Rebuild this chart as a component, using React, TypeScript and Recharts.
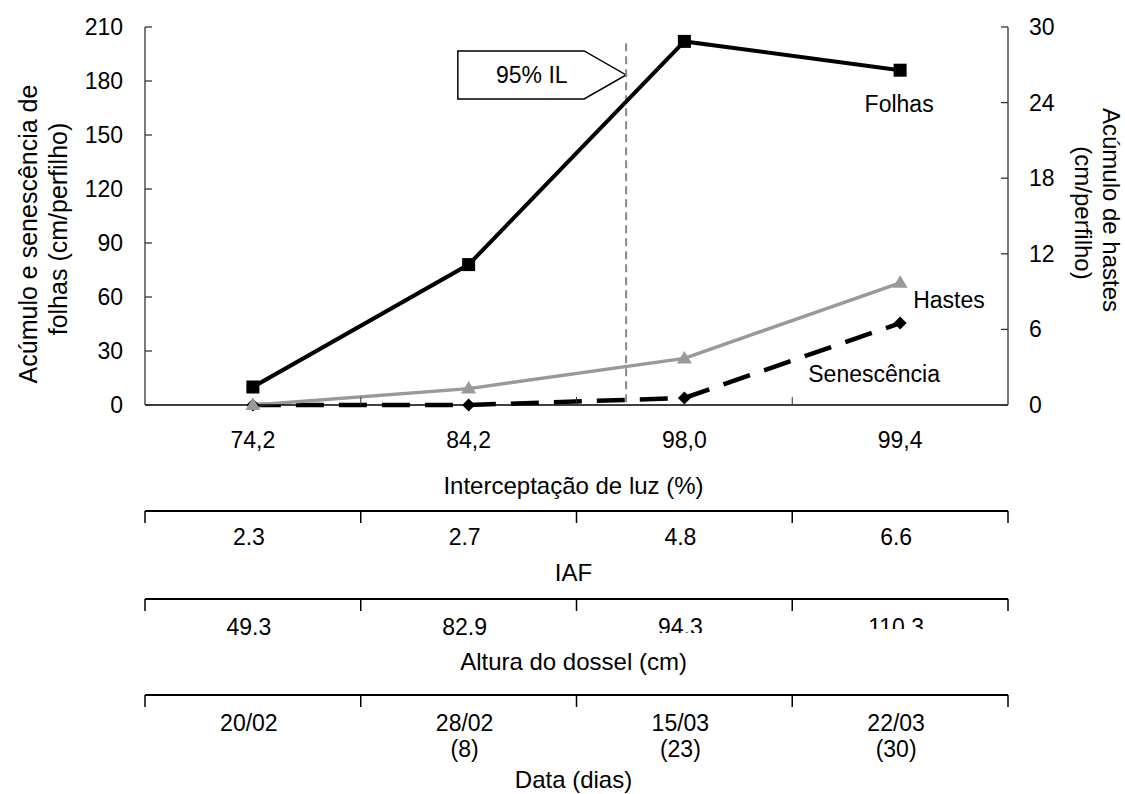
import React from 'react';
import { ComposedChart, Line, XAxis, YAxis, ReferenceLine, ReferenceArea, LabelList } from 'recharts';

const FONT = '"Liberation Sans", Arial, sans-serif';

const INTERCEPTACAO = ['74,2', '84,2', '98,0', '99,4'];
const FOLHAS = [10, 78, 202, 186];
const HASTES = [0, 1.3, 3.7, 9.7];
const SENESCENCIA = [0, 0, 3.9, 45.5];
const IAF = ['2.3', '2.7', '4.8', '6.6'];
const ALTURA = ['49.3', '82.9', '94.3', '110.3'];
const DATAS = ['20/02', '28/02', '15/03', '22/03'];
const DIAS = ['', '(8)', '(23)', '(30)'];

const LEFT_TICKS = [0, 30, 60, 90, 120, 150, 180, 210];
const RIGHT_TICKS = [0, 6, 12, 18, 24, 30];
const X_TICKS = [-0.5, 0, 0.5, 1, 1.5, 2, 2.5, 3, 3.5];

// 95% IL marker, x in category-index units, y on left axis
const IL95_X = 1.73;
const IL95_TOP = 201;
const CALLOUT_X1 = 0.95;
const CALLOUT_Y = [170, 196.7];

const data = INTERCEPTACAO.map((il, i) => ({
  x: i,
  il,
  folhas: FOLHAS[i],
  hastes: HASTES[i],
  senescencia: SENESCENCIA[i],
}));

const txt = { fontFamily: FONT, fill: '#000' };

function MainXTick(p: any) {
  const v = p.payload.value;
  if (Number.isInteger(v)) {
    return (
      <text x={p.x} y={p.y + 43} textAnchor="middle" fontSize={23} {...txt}>
        {INTERCEPTACAO[v]}
      </text>
    );
  }
  if (v > -0.5 && v < 3.5) {
    return <line x1={p.x} x2={p.x} y1={p.y} y2={p.y - 8} stroke="#333" strokeWidth={1} />;
  }
  return <g />;
}

const tableTick = (rows: string[][], dys: number[], clip?: (number | null)[]) => (p: any) => {
  const v = p.payload.value;
  if (Number.isInteger(v)) {
    const cb = clip ? clip[v] : null;
    const id = `clip-${v}-${rows[0][v].replace(/\W/g, '')}`;
    return (
      <g>
        {cb != null && (
          <defs>
            <clipPath id={id}>
              <rect x={p.x - 60} y={p.y} width={120} height={cb} />
            </clipPath>
          </defs>
        )}
        <g clipPath={cb != null ? `url(#${id})` : undefined}>
          {rows.map((r, k) => (
            <text key={k} x={p.x - 4} y={p.y + dys[k]} textAnchor="middle" fontSize={23} {...txt}>
              {r[v]}
            </text>
          ))}
        </g>
      </g>
    );
  }
  return <line x1={p.x} x2={p.x} y1={p.y} y2={p.y + 12} stroke="#000" strokeWidth={1.5} />;
};

const axisTitle = (text: string, dy: number) => (p: any) => {
  const vb = p.viewBox;
  return (
    <text x={vb.x + vb.width / 2 - 3} y={vb.y + dy} textAnchor="middle" fontSize={24} {...txt}>
      {text}
    </text>
  );
};

function LeftTick(p: any) {
  return (
    <g>
      <line x1={p.x} x2={p.x + 7} y1={p.y} y2={p.y} stroke="#333" strokeWidth={1.3} />
      <text x={p.x - 22} y={p.y + 8} textAnchor="end" fontSize={23} {...txt}>
        {p.payload.value}
      </text>
    </g>
  );
}

function RightTick(p: any) {
  return (
    <g>
      <line x1={p.x} x2={p.x - 7} y1={p.y} y2={p.y} stroke="#333" strokeWidth={1.3} />
      <text x={p.x + 21} y={p.y + 8} textAnchor="start" fontSize={23} {...txt}>
        {p.payload.value}
      </text>
    </g>
  );
}

function LeftTitle(p: any) {
  const vb = p.viewBox;
  const b1 = vb.x + 37;
  const b2 = vb.x + 67;
  const c1 = vb.y + 207;
  const c2 = vb.y + 202;
  return (
    <g>
      <text x={b1} y={c1} transform={`rotate(-90, ${b1}, ${c1})`} textAnchor="middle" fontSize={25} {...txt}>
        Acúmulo e senescência de
      </text>
      <text x={b2} y={c2} transform={`rotate(-90, ${b2}, ${c2})`} textAnchor="middle" fontSize={25} {...txt}>
        folhas (cm/perfilho)
      </text>
    </g>
  );
}

function RightTitle(p: any) {
  const vb = p.viewBox;
  const b1 = vb.x + 95;
  const b2 = vb.x + 67;
  const c1 = vb.y + 183;
  const c2 = vb.y + 186;
  return (
    <g>
      <text x={b1} y={c1} transform={`rotate(90, ${b1}, ${c1})`} textAnchor="middle" fontSize={24} {...txt}>
        Acúmulo de hastes
      </text>
      <text x={b2} y={c2} transform={`rotate(90, ${b2}, ${c2})`} textAnchor="middle" fontSize={24} {...txt}>
        (cm/perfilho)
      </text>
    </g>
  );
}

function Callout(p: any) {
  const { x, y, width, height } = p;
  const tip = 42;
  const d = `M${x},${y} H${x + width - tip} L${x + width},${y + height / 2} L${x + width - tip},${y + height} H${x} Z`;
  return (
    <g>
      <path d={d} fill="#fff" stroke="#000" strokeWidth={1.5} />
      <text x={x + 74} y={y + 32} textAnchor="middle" fontSize={23} {...txt}>
        95% IL
      </text>
    </g>
  );
}

const seriesLabel = (text: string, dx: number, dy: number, anchor: string) => (p: any) => {
  if (p.index !== 3) return <g />;
  return (
    <text x={p.x + dx} y={p.y + dy} textAnchor={anchor} fontSize={23} {...txt}>
      {text}
    </text>
  );
};

// axis ids are alphabetical: recharts stacks bottom axes in that order
const tableAxis = {
  dataKey: 'x',
  type: 'number' as const,
  domain: [-0.5, 3.5],
  ticks: X_TICKS,
  interval: 0,
  allowDataOverflow: true,
  tickLine: false,
  tickSize: 0,
  tickMargin: 0,
};

export default function App() {
  return (
    <div style={{ position: 'absolute', left: 0, top: 0, width: 1125, height: 794, background: '#fff' }}>
      <ComposedChart width={1125} height={794} data={data} margin={{ top: 27, right: 0, bottom: 0, left: 0 }}>
        <XAxis
          xAxisId="a_main"
          {...tableAxis}
          height={106}
          axisLine={{ stroke: '#000', strokeWidth: 1.5 }}
          tick={(p: any) => <MainXTick {...p} />}
          label={axisTitle('Interceptação de luz (%)', 89)}
        />
        <XAxis
          xAxisId="b_iaf"
          {...tableAxis}
          height={88}
          axisLine={{ stroke: '#000', strokeWidth: 2 }}
          tick={tableTick([IAF], [34])}
          label={axisTitle('IAF', 70)}
        />
        <XAxis
          xAxisId="c_alt"
          {...tableAxis}
          height={96}
          axisLine={{ stroke: '#000', strokeWidth: 2 }}
          tick={tableTick([ALTURA], [36], [null, null, 34, 30])}
          label={axisTitle('Altura do dossel (cm)', 71)}
        />
        <XAxis
          xAxisId="d_date"
          {...tableAxis}
          height={99}
          axisLine={{ stroke: '#000', strokeWidth: 2 }}
          tick={tableTick([DATAS, DIAS], [36, 62])}
          label={axisTitle('Data (dias)', 93)}
        />
        <YAxis
          yAxisId="left"
          domain={[0, 210]}
          ticks={LEFT_TICKS}
          interval={0}
          width={145}
          tickLine={false}
          tickSize={0}
          tickMargin={0}
          axisLine={{ stroke: '#333', strokeWidth: 1.3 }}
          tick={(p: any) => <LeftTick {...p} />}
          label={(p: any) => <LeftTitle {...p} />}
        />
        <YAxis
          yAxisId="right"
          orientation="right"
          domain={[0, 30]}
          ticks={RIGHT_TICKS}
          interval={0}
          width={117}
          tickLine={false}
          tickSize={0}
          tickMargin={0}
          axisLine={{ stroke: '#333', strokeWidth: 1.3 }}
          tick={(p: any) => <RightTick {...p} />}
          label={(p: any) => <RightTitle {...p} />}
        />
        <ReferenceLine
          xAxisId="a_main"
          yAxisId="left"
          segment={[{ x: IL95_X, y: IL95_TOP }, { x: IL95_X, y: 0 }]}
          stroke="#888"
          strokeWidth={2}
          strokeDasharray="8 5"
        />
        <ReferenceArea
          xAxisId="a_main"
          yAxisId="left"
          x1={CALLOUT_X1}
          x2={IL95_X}
          y1={CALLOUT_Y[0]}
          y2={CALLOUT_Y[1]}
          shape={(p: any) => <Callout {...p} />}
        />
        <Line
          xAxisId="a_main"
          yAxisId="left"
          dataKey="senescencia"
          stroke="#000"
          strokeWidth={4.5}
          strokeDasharray="28 15"
          isAnimationActive={false}
          activeDot={false}
          dot={(p: any) => (
            <path
              key={`s${p.index}`}
              d={`M${p.cx},${p.cy - 6.5} L${p.cx + 6.5},${p.cy} L${p.cx},${p.cy + 6.5} L${p.cx - 6.5},${p.cy} Z`}
              fill="#000"
            />
          )}
        >
          <LabelList dataKey="senescencia" content={seriesLabel('Senescência', -26, 59, 'middle')} />
        </Line>
        <Line
          xAxisId="a_main"
          yAxisId="right"
          dataKey="hastes"
          stroke="#999"
          strokeWidth={3.5}
          isAnimationActive={false}
          activeDot={false}
          dot={(p: any) => (
            <path
              key={`h${p.index}`}
              d={`M${p.cx},${p.cy - 7.5} L${p.cx + 7.5},${p.cy + 5} L${p.cx - 7.5},${p.cy + 5} Z`}
              fill="#999"
            />
          )}
        >
          <LabelList dataKey="hastes" content={seriesLabel('Hastes', 13, 25, 'start')} />
        </Line>
        <Line
          xAxisId="a_main"
          yAxisId="left"
          dataKey="folhas"
          stroke="#000"
          strokeWidth={4}
          isAnimationActive={false}
          activeDot={false}
          dot={(p: any) => (
            <rect key={`f${p.index}`} x={p.cx - 6.5} y={p.cy - 6.5} width={13} height={13} fill="#000" />
          )}
        >
          <LabelList dataKey="folhas" content={seriesLabel('Folhas', -1, 42, 'middle')} />
        </Line>
      </ComposedChart>
    </div>
  );
}
